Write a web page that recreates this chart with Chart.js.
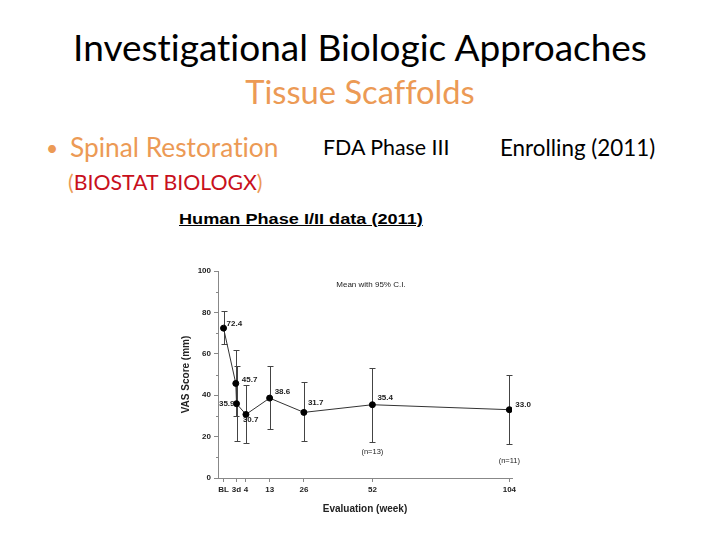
<!DOCTYPE html>
<html>
<head>
<meta charset="utf-8">
<script src="https://cdn.jsdelivr.net/npm/chart.js@4.4.0/dist/chart.umd.min.js"></script>
<style>
  body { margin: 0; background: #fff; }
  #page { position: relative; width: 720px; height: 540px; overflow: hidden; font-family: Lato, "Open Sans", sans-serif; font-variant-ligatures: none; }
  .t { position: absolute; white-space: nowrap; line-height: 1; }
  #chartBox { position: absolute; left: 180px; top: 262px; width: 380px; height: 260px; }
</style>
</head>
<body>
<div id="page">
  <div class="t" style="left:0;width:720px;text-align:center;top:28px;font-size:37px;color:#000;">Investigational Biologic Approaches</div>
  <div class="t" style="left:0;width:720px;text-align:center;top:76px;font-size:32.7px;color:#EC9A55;">Tissue Scaffolds</div>
  <div class="t" style="left:46px;top:137px;font-size:21px;color:#EC9A55;">•</div>
  <div class="t" style="left:70px;top:134px;font-size:26.3px;color:#EC9A55;">Spinal Restoration</div>
  <div class="t" style="left:323px;top:137px;font-size:21.4px;color:#000;">FDA Phase III</div>
  <div class="t" style="left:500px;top:137px;font-size:22.4px;color:#000;">Enrolling (2011)</div>
  <div class="t" style="left:68px;top:172px;font-size:21.3px;color:#EC9A55;">(<span style="color:#C8101C">BIOSTAT BIOLOGX</span>)</div>
  <div class="t" style="left:179px;top:212px;font-size:14.5px;font-weight:bold;font-family:'Liberation Sans',Arial,sans-serif;text-decoration:underline;color:#000;transform:scaleX(1.25);transform-origin:left top;">Human Phase I/II data (2011)</div>
  <div id="chartBox"><canvas id="vasChart"></canvas></div>
</div>
<script>
// Datos del ensayo (VAS, media con IC 95%)
const weeks = [-4.5, 0.15, 0.43, 4, 13, 26, 52, 104];
const meanVas = [72.4, 45.7, 35.9, 30.7, 38.6, 31.7, 35.4, 33.0];
const ciLow = [64.5, 30.0, 18.0, 16.8, 23.5, 17.9, 17.5, 16.4];
const ciHigh = [80.5, 61.7, 54.0, 44.8, 54.0, 46.4, 53.0, 49.8];
const pointLabels = ['72.4', '45.7', '35.9', '30.7', '38.6', '31.7', '35.4', '33.0'];
const tickWeeks = [-4.5, 0.43, 4, 13, 26, 52, 104];
const tickLabels = ['BL', '3d', '4', '13', '26', '52', '104'];
const nNotes = [{ x: 52, y: 12.6, text: '(n=13)' }, { x: 104, y: 8.2, text: '(n=11)' }];

// desplazamientos de las etiquetas respecto al punto (px)
const labelOffsets = [[3, -4, 'left'], [6, -4, 'left'], [-2, 0, 'right'], [-3, 5, 'left'],
                      [5, -6, 'left'], [4, -10, 'left'], [5, -7, 'left'], [6, -5, 'left']];

const chartFont = "'Liberation Sans', Arial, sans-serif";

const extras = {
    id: 'extras',
    beforeDatasetsDraw(chart) {
        const { ctx, scales: { x, y } } = chart;
        ctx.save();
        ctx.strokeStyle = '#444';
        ctx.lineWidth = 1;
        weeks.forEach((w, i) => {
            const px = Math.round(x.getPixelForValue(w)) + 0.5;
            const top = Math.round(y.getPixelForValue(ciHigh[i])) + 0.5;
            const bot = Math.round(y.getPixelForValue(ciLow[i])) + 0.5;
            ctx.beginPath();
            ctx.moveTo(px, top); ctx.lineTo(px, bot);
            ctx.moveTo(px - 3, top); ctx.lineTo(px + 3, top);
            ctx.moveTo(px - 3, bot); ctx.lineTo(px + 3, bot);
            ctx.stroke();
        });
        // ticks menores eje Y
        ctx.strokeStyle = '#888';
        for (let v = 10; v < 100; v += 20) {
            const py = Math.round(y.getPixelForValue(v)) + 0.5;
            ctx.beginPath();
            ctx.moveTo(x.left - 2, py); ctx.lineTo(x.left, py);
            ctx.stroke();
        }
        ctx.restore();
    },
    afterDatasetsDraw(chart) {
        const { ctx, scales: { x, y } } = chart;
        ctx.save();
        ctx.fillStyle = '#222';
        ctx.font = 'bold 8px ' + chartFont;
        ctx.textBaseline = 'middle';
        weeks.forEach((w, i) => {
            const [dx, dy, align] = labelOffsets[i];
            ctx.textAlign = align;
            ctx.fillText(pointLabels[i], x.getPixelForValue(w) + dx, y.getPixelForValue(meanVas[i]) + dy);
        });
        ctx.font = '7.5px ' + chartFont;
        ctx.textAlign = 'center';
        nNotes.forEach(n => ctx.fillText(n.text, x.getPixelForValue(n.x), y.getPixelForValue(n.y)));
        ctx.font = '8px ' + chartFont;
        ctx.textAlign = 'left';
        ctx.fillText('Mean with 95% C.I.', x.getPixelForValue(38.3), y.getPixelForValue(93.3));
        ctx.restore();
    }
};

new Chart(document.getElementById('vasChart').getContext('2d'), {
    type: 'scatter',
    data: {
        datasets: [{
            data: weeks.map((w, i) => ({ x: w, y: meanVas[i] })),
            showLine: true,
            borderColor: '#333',
            borderWidth: 1,
            pointRadius: 3,
            pointBackgroundColor: '#000',
            pointBorderColor: '#000'
        }]
    },
    options: {
        responsive: true,
        maintainAspectRatio: false,
        animation: false,
        layout: { padding: { top: 9, right: 48, left: 0, bottom: 0 } },
        plugins: { legend: { display: false }, tooltip: { enabled: false } },
        scales: {
            x: {
                type: 'linear',
                min: -6.6,
                max: 105,
                afterBuildTicks: s => { s.ticks = tickWeeks.map(v => ({ value: v })); },
                afterFit: s => { s.height = 44; },
                ticks: {
                    autoSkip: false, maxRotation: 0, padding: 3,
                    color: '#222', font: { family: chartFont, size: 8, weight: 'bold' },
                    callback: (v, i) => tickLabels[i]
                },
                grid: { drawOnChartArea: false, drawTicks: true, tickLength: 4, color: '#888' },
                border: { color: '#888' },
                title: {
                    display: true, text: 'Evaluation (week)', color: '#222',
                    font: { family: chartFont, size: 10, weight: 'bold' },
                    padding: { top: 0, bottom: 7 }
                }
            },
            y: {
                min: 0,
                max: 100,
                afterFit: s => { s.width = 38; },
                ticks: {
                    stepSize: 20, padding: 3,
                    color: '#222', font: { family: chartFont, size: 8, weight: 'bold' }
                },
                grid: { drawOnChartArea: false, drawTicks: true, tickLength: 4, color: '#888' },
                border: { color: '#888' },
                title: {
                    display: true, text: 'VAS Score (mm)', color: '#222',
                    font: { family: chartFont, size: 10, weight: 'bold' },
                    padding: { top: 0, bottom: 0 }
                }
            }
        }
    },
    plugins: [extras]
});
</script>
</body>
</html>
